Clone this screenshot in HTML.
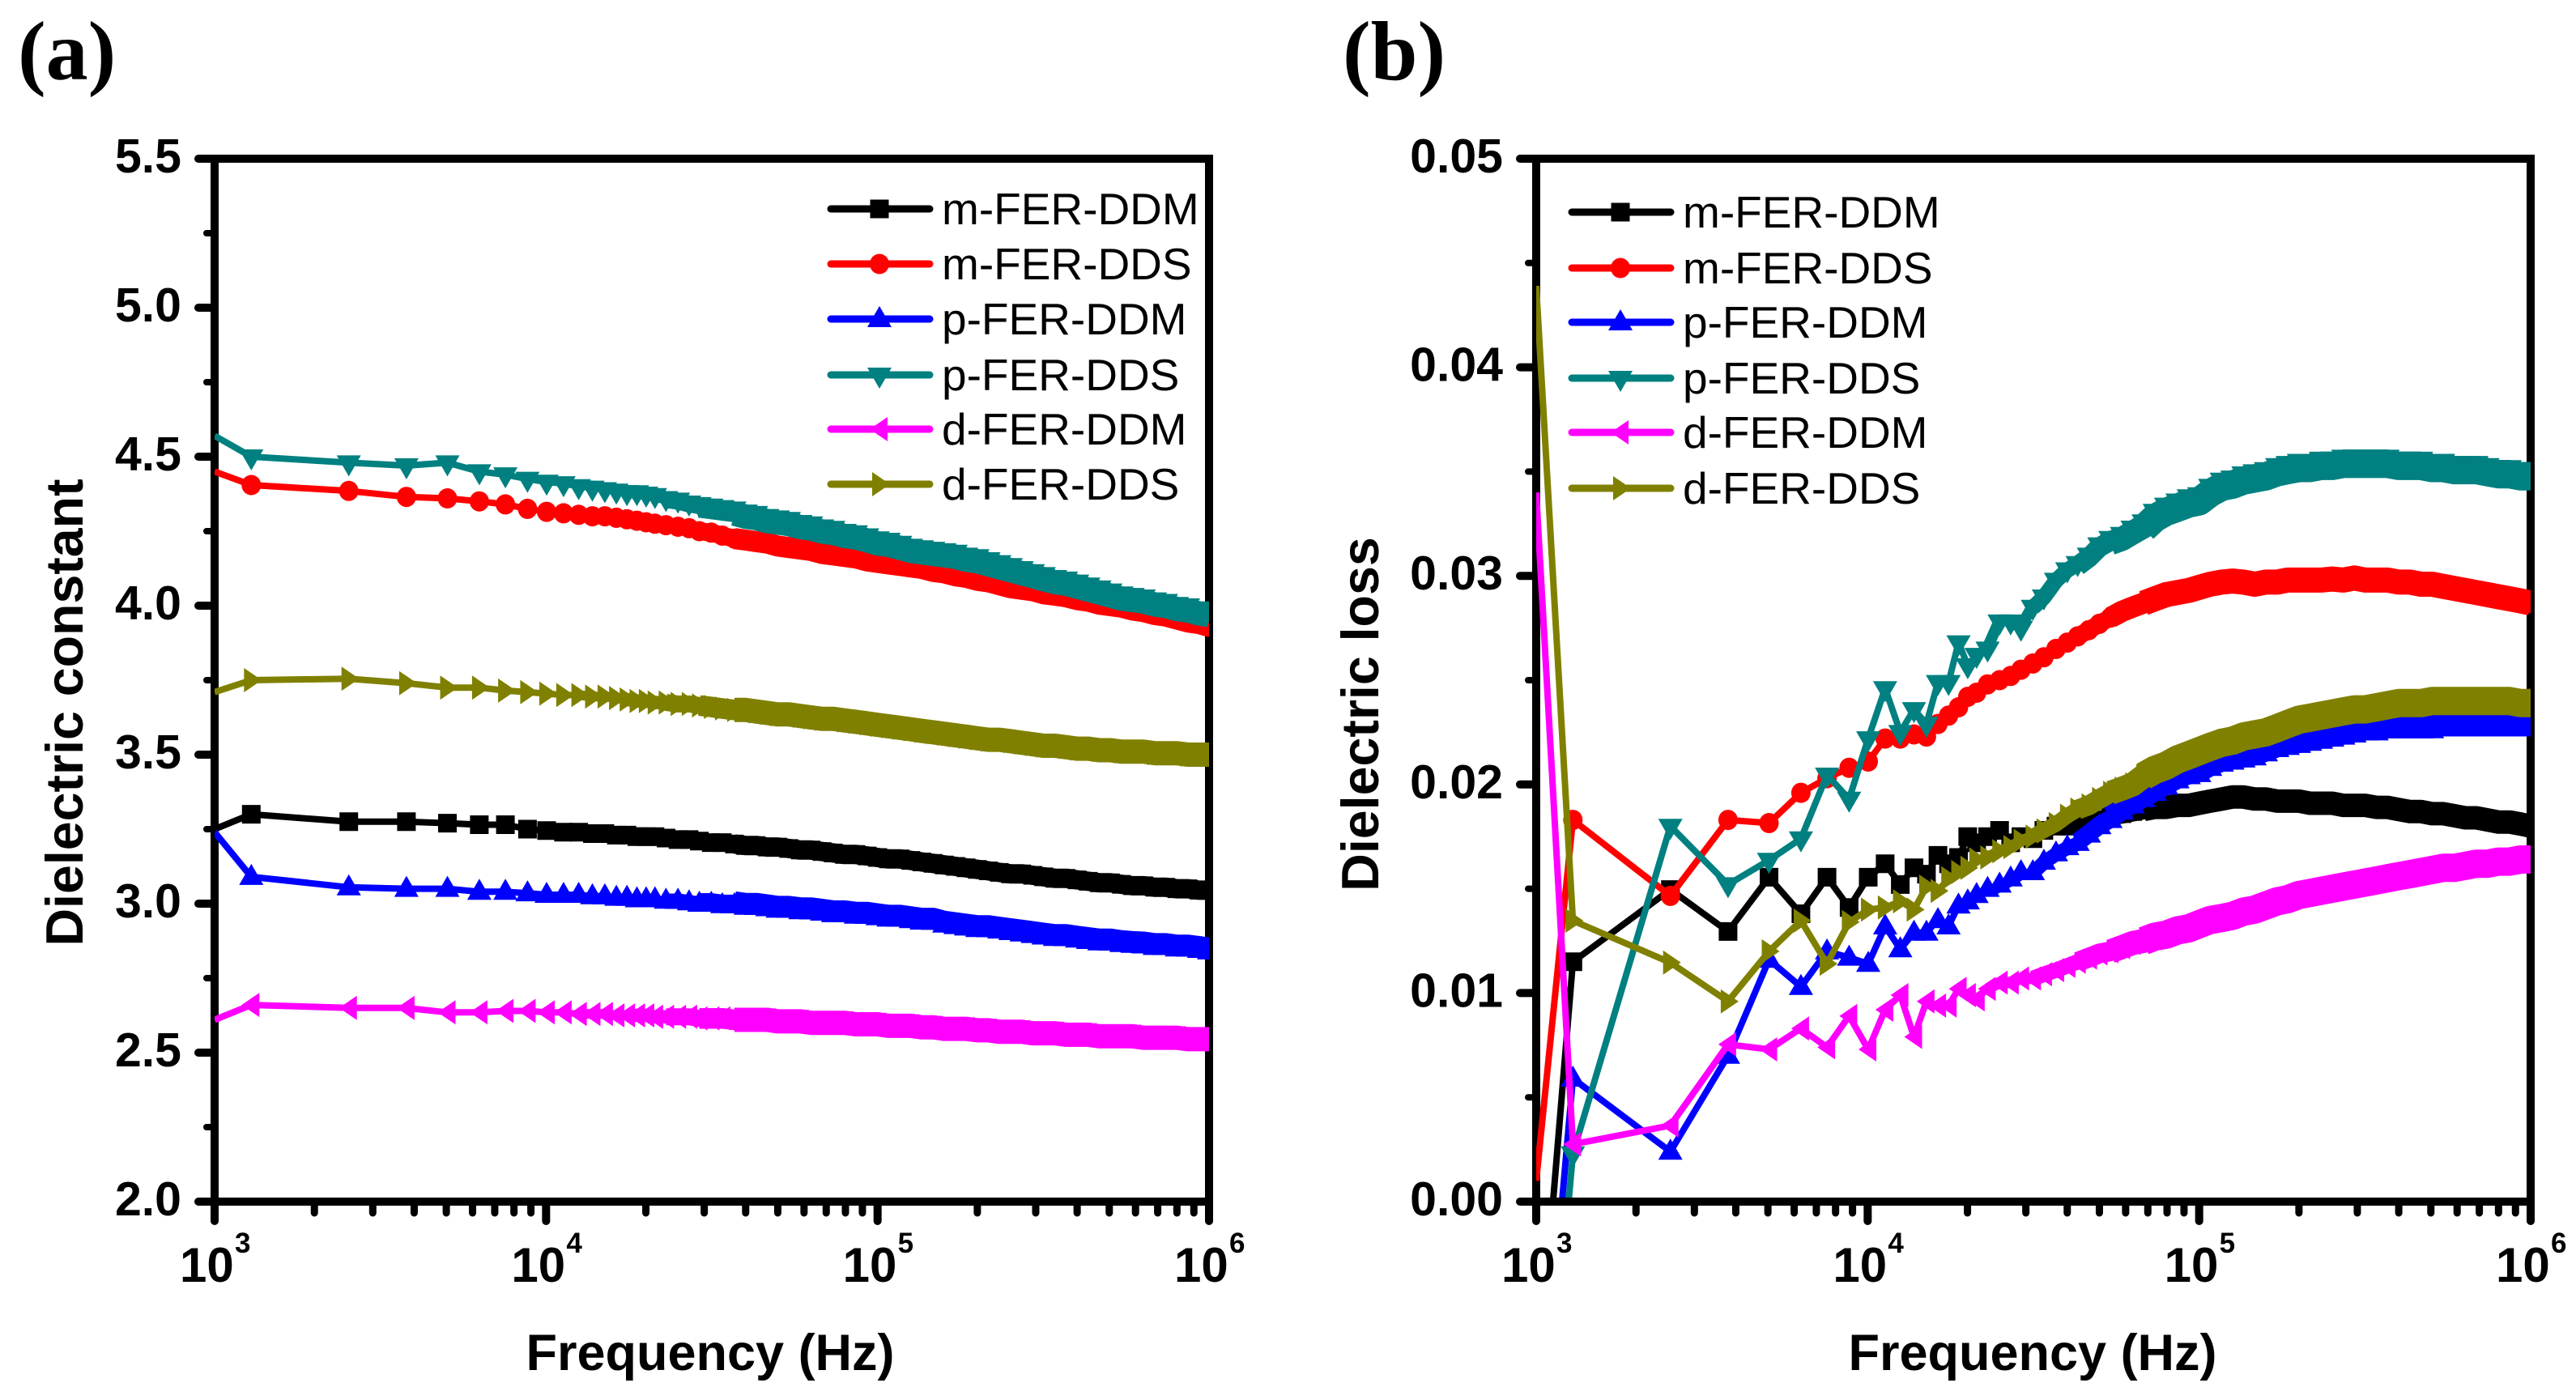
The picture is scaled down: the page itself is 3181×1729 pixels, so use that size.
<!DOCTYPE html>
<html lang="en">
<head>
<meta charset="utf-8">
<title>Dielectric constant and dielectric loss versus frequency</title>
<style>
html,body{margin:0;padding:0;background:#fff;width:3181px;height:1729px;overflow:hidden;}
svg{display:block;font-family:"Liberation Sans",Arial,sans-serif;}
</style>
</head>
<body>
<svg id="figure" xmlns="http://www.w3.org/2000/svg" width="3181" height="1729" viewBox="0 0 3181 1729">
<rect x="0" y="0" width="3181" height="1729" fill="#ffffff"/>
<defs>
<clipPath id="clip-a"><rect x="265" y="196" width="1228" height="1283"/></clipPath>
<clipPath id="clip-b"><rect x="1897" y="196" width="1228" height="1283"/></clipPath>
</defs>
<text x="22" y="98" font-family="Liberation Serif, serif" font-size="104" font-weight="700" fill="#000">(a)</text>
<text x="1658" y="98" font-family="Liberation Serif, serif" font-size="104" font-weight="700" fill="#000">(b)</text>
<text x="877" y="1692" text-anchor="middle" font-size="63" font-weight="700" fill="#000">Frequency (Hz)</text>
<text x="2510" y="1692" text-anchor="middle" font-size="63" font-weight="700" fill="#000">Frequency (Hz)</text>
<text transform="translate(102 880) rotate(-90)" text-anchor="middle" font-size="64.5" font-weight="700" fill="#000">Dielectric constant</text>
<text transform="translate(1702 882) rotate(-90)" text-anchor="middle" font-size="64.5" font-weight="700" fill="#000">Dielectric loss</text>
<g id="layer-a"></g>
<g id="layer-b"></g>
</svg>
<script>
const frequencies = [
1000,1290,2540,3790,5040,6290,7540,8790,10040,11290,
12540,13790,15040,16290,17540,18790,20040,21300,23000,25000,
27000,29000,31500,34000,37000,40000,43000,46500,50000,54000,
58500,63000,68000,73500,79500,86000,93000,100000,108000,117000,
126000,136000,147000,159000,172000,185000,200000,216000,233000,252000,
272000,294000,317000,343000,370000,400000,432000,467000,504000,544000,
588000,635000,686000,741000,800000,864000,933000,1000000];

const seriesNames = ["m-FER-DDM","m-FER-DDS","p-FER-DDM","p-FER-DDS","d-FER-DDM","d-FER-DDS"];
const seriesColors = ["#000000","#ff0000","#0000ff","#008080","#ff00ff","#808000"];
const seriesShapes = ["square","circle","up","down","left","right"];

const constantMDDM = [
3.25,3.30,3.275,3.275,3.27,3.265,3.265,3.25,3.245,3.24,
3.24,3.235,3.235,3.23,3.23,3.225,3.225,3.225,3.22,3.215,
3.215,3.21,3.205,3.205,3.20,3.195,3.195,3.19,3.19,3.185,
3.18,3.18,3.175,3.17,3.165,3.165,3.16,3.155,3.15,3.15,
3.145,3.14,3.135,3.13,3.125,3.12,3.115,3.11,3.105,3.10,
3.10,3.095,3.09,3.085,3.085,3.08,3.075,3.07,3.07,3.065,
3.06,3.06,3.055,3.055,3.05,3.05,3.045,3.045];
const constantMDDS = [
4.45,4.405,4.385,4.365,4.36,4.35,4.34,4.325,4.315,4.31,
4.305,4.30,4.30,4.295,4.29,4.285,4.28,4.275,4.27,4.265,
4.26,4.25,4.245,4.235,4.225,4.22,4.215,4.21,4.20,4.195,
4.19,4.185,4.175,4.17,4.165,4.16,4.15,4.145,4.14,4.135,
4.13,4.125,4.115,4.11,4.10,4.095,4.085,4.08,4.07,4.06,
4.055,4.05,4.04,4.035,4.03,4.02,4.015,4.005,4.0,3.995,
3.985,3.98,3.97,3.965,3.955,3.945,3.94,3.93];
const constantPDDM = [
3.24,3.09,3.055,3.05,3.05,3.04,3.04,3.035,3.03,3.03,
3.03,3.025,3.025,3.02,3.02,3.015,3.015,3.015,3.01,3.01,
3.005,3.0,3.0,2.995,2.995,2.99,2.99,2.985,2.98,2.98,
2.975,2.975,2.97,2.965,2.965,2.96,2.96,2.955,2.95,2.95,
2.945,2.94,2.94,2.93,2.925,2.92,2.915,2.915,2.91,2.905,
2.90,2.895,2.89,2.885,2.885,2.88,2.875,2.87,2.87,2.865,
2.862,2.86,2.855,2.855,2.85,2.85,2.845,2.84];
const constantPDDS = [
4.57,4.50,4.48,4.47,4.48,4.45,4.44,4.425,4.415,4.41,
4.40,4.395,4.39,4.385,4.38,4.38,4.375,4.37,4.36,4.355,
4.345,4.34,4.335,4.33,4.325,4.315,4.31,4.30,4.295,4.29,
4.28,4.275,4.265,4.26,4.25,4.245,4.235,4.225,4.22,4.21,
4.20,4.195,4.19,4.185,4.18,4.17,4.165,4.155,4.145,4.135,
4.125,4.115,4.105,4.095,4.09,4.08,4.07,4.06,4.05,4.04,
4.035,4.03,4.02,4.015,4.005,4.0,3.99,3.985];
const constantDDDM = [
2.61,2.66,2.65,2.65,2.635,2.635,2.64,2.64,2.635,2.635,
2.63,2.63,2.63,2.625,2.625,2.625,2.625,2.62,2.62,2.62,
2.62,2.615,2.615,2.615,2.61,2.61,2.61,2.61,2.605,2.605,
2.605,2.60,2.60,2.60,2.60,2.595,2.595,2.595,2.59,2.59,
2.59,2.585,2.585,2.58,2.58,2.58,2.575,2.575,2.57,2.57,
2.57,2.565,2.565,2.565,2.56,2.56,2.56,2.555,2.555,2.555,
2.555,2.55,2.55,2.55,2.55,2.545,2.545,2.545];
const constantDDDS = [
3.71,3.75,3.755,3.74,3.725,3.725,3.715,3.71,3.705,3.70,
3.70,3.695,3.695,3.69,3.685,3.68,3.68,3.675,3.675,3.67,
3.67,3.665,3.66,3.655,3.65,3.65,3.645,3.64,3.635,3.635,
3.63,3.625,3.62,3.62,3.615,3.61,3.605,3.60,3.595,3.59,
3.585,3.58,3.575,3.57,3.565,3.56,3.555,3.55,3.55,3.545,
3.54,3.535,3.53,3.53,3.525,3.52,3.52,3.515,3.515,3.51,
3.51,3.51,3.505,3.505,3.505,3.50,3.50,3.50];

const lossMDDM = [
-0.0098,0.0115,0.01496,0.01295,0.01555,0.0138,0.01555,0.0141,0.01555,0.0162,
0.0152,0.016,0.0157,0.0166,0.0162,0.0165,0.0175,0.0172,0.0175,0.0178,
0.0172,0.0175,0.0174,0.0178,0.018,0.018,0.0181,0.0182,0.0183,0.0185,
0.0186,0.0187,0.0188,0.0189,0.0189,0.019,0.019,0.0191,0.0192,0.0193,
0.0194,0.0194,0.0193,0.0193,0.0192,0.0192,0.0192,0.0191,0.0191,0.0191,
0.019,0.019,0.019,0.0189,0.0189,0.0188,0.0187,0.0187,0.0186,0.0186,
0.0185,0.0184,0.0184,0.0183,0.0182,0.0182,0.0181,0.018];
const lossMDDS = [
0.001,0.0183,0.01466,0.0183,0.01815,0.0196,0.0203,0.0208,0.0211,0.0222,
0.0222,0.0224,0.0223,0.0229,0.0233,0.0237,0.0242,0.0244,0.0248,0.025,
0.0252,0.0255,0.0258,0.0261,0.0265,0.0268,0.0271,0.0274,0.0277,0.028,
0.0283,0.0285,0.0287,0.0289,0.0291,0.0292,0.0293,0.02945,0.0296,0.0297,
0.02975,0.0297,0.0296,0.0297,0.0297,0.0298,0.0298,0.0298,0.0298,0.02985,
0.0298,0.0299,0.0298,0.0298,0.0298,0.0297,0.0297,0.0296,0.0296,0.0295,
0.0294,0.0293,0.0292,0.0291,0.029,0.0289,0.0288,0.0287];
const lossPDDM = [
-0.0141,0.0059,0.0024,0.007,0.0116,0.0103,0.012,0.0117,0.0114,0.0132,
0.0121,0.0129,0.0129,0.0135,0.0132,0.0142,0.0144,0.0147,0.015,0.0152,
0.0155,0.0158,0.0158,0.0163,0.0167,0.017,0.0172,0.0176,0.018,0.0183,
0.0187,0.019,0.0193,0.0196,0.0199,0.0202,0.0204,0.0205,0.0208,0.021,
0.0211,0.0212,0.0213,0.0215,0.0217,0.0218,0.0219,0.022,0.0221,0.0222,
0.0223,0.0224,0.0225,0.0225,0.0226,0.0226,0.0226,0.0226,0.0226,0.0227,
0.0227,0.0227,0.0227,0.0227,0.0227,0.0227,0.0227,0.0227];
const lossPDDS = [
-0.0173,0.0023,0.018,0.0152,0.01637,0.0174,0.02046,0.0193,0.0222,0.0246,
0.0225,0.0236,0.0229,0.0249,0.0249,0.0268,0.0257,0.0262,0.0265,0.0278,
0.0278,0.0275,0.0285,0.029,0.0298,0.0303,0.0306,0.031,0.0315,0.0318,
0.032,0.0323,0.0326,0.0331,0.0334,0.0336,0.0338,0.0339,0.0343,0.0346,
0.0347,0.0349,0.035,0.0351,0.0353,0.0354,0.0355,0.0355,0.0356,0.0356,
0.0357,0.0357,0.0357,0.0357,0.0357,0.0356,0.0356,0.0356,0.0355,0.0355,
0.0354,0.0354,0.0354,0.0353,0.0352,0.0352,0.0351,0.0351];
const lossDDDM = [
0.034,0.00275,0.00365,0.00754,0.0073,0.0083,0.0074,0.0089,0.0073,0.0092,
0.0099,0.0079,0.0096,0.0094,0.0094,0.0102,0.0099,0.0097,0.0102,0.0105,
0.0105,0.0107,0.0107,0.0109,0.0111,0.0113,0.0115,0.0117,0.0119,0.012,
0.0122,0.0124,0.0125,0.0127,0.0128,0.013,0.0131,0.0133,0.0135,0.0136,
0.0137,0.0139,0.014,0.0142,0.0144,0.0145,0.0147,0.0148,0.0149,0.015,
0.0151,0.0152,0.0153,0.0154,0.0155,0.0156,0.0157,0.0158,0.0159,0.016,
0.016,0.0161,0.0162,0.0162,0.0163,0.0163,0.0164,0.0164];
const lossDDDS = [
0.0439,0.01347,0.01146,0.0096,0.012,0.01347,0.0114,0.0134,0.014,0.0141,
0.0144,0.014,0.0151,0.0149,0.0155,0.0158,0.016,0.0164,0.0165,0.0168,
0.017,0.0173,0.0175,0.0178,0.0181,0.0185,0.0188,0.019,0.0193,0.0196,
0.0198,0.02,0.0204,0.0207,0.0209,0.0212,0.0214,0.0216,0.0218,0.022,
0.0221,0.0223,0.0224,0.0225,0.0227,0.0229,0.0231,0.0232,0.0233,0.0234,
0.0235,0.0236,0.0236,0.0237,0.0238,0.0239,0.0239,0.0239,0.024,0.024,
0.024,0.024,0.024,0.024,0.024,0.024,0.0239,0.0239];

const constantTicks = ["2.0","2.5","3.0","3.5","4.0","4.5","5.0","5.5"];
const lossTicks = ["0.00","0.01","0.02","0.03","0.04","0.05"];
const xTickExponents = [3,4,5,6];

const SVG_NS = "http://www.w3.org/2000/svg";
const BAND_TIERS = [[10, 0.4], [14, 0.55], [18, 0.7], [21, 0.85], [24, 1]];
const BAND_HEIGHT = { square: 24, circle: 26, up: 27, down: 30, left: 30, right: 30 };

function make(tag, parent, attrs, text) {
  const node = document.createElementNS(SVG_NS, tag);
  for (const key in attrs) node.setAttribute(key, attrs[key]);
  if (text !== undefined) node.textContent = text;
  parent.appendChild(node);
  return node;
}

function bandOffset(shape, width) {
  if (shape === "up") return 10 - width / 2;
  if (shape === "down") return -9 + width / 2;
  return 0;
}

function shapePoints(shape, cx, cy) {
  let pts;
  if (shape === "square") pts = [[-11.5,-11.5],[11.5,-11.5],[11.5,11.5],[-11.5,11.5]];
  if (shape === "up") pts = [[0,-16],[15,10],[-15,10]];
  if (shape === "down") pts = [[-15,-9],[15,-9],[0,17]];
  if (shape === "left") pts = [[-12,0],[10,-15],[10,15]];
  if (shape === "right") pts = [[-9,-15],[13,0],[-9,15]];
  return pts.map(p => (cx + p[0]).toFixed(1) + "," + (cy + p[1]).toFixed(1)).join(" ");
}

function drawMarker(parent, shape, cx, cy, color) {
  if (shape === "circle") {
    return make("ellipse", parent, { cx: cx.toFixed(1), cy: cy.toFixed(1), rx: 12, ry: 12.5, fill: color });
  }
  return make("polygon", parent, { points: shapePoints(shape, cx, cy), fill: color });
}

function linePoints(values, xA, yA, yMin) {
  const pts = [];
  values.forEach((v, i) => {
    if (v >= yMin) {
      pts.push([xA(frequencies[i]), yA(v)]);
    } else if (i + 1 < values.length && values[i + 1] >= yMin) {
      const t = (yMin - v) / (values[i + 1] - v);
      const x = xA(frequencies[i]) + t * (xA(frequencies[i + 1]) - xA(frequencies[i]));
      pts.push([x, yA(yMin)]);
    }
  });
  return pts.map(p => p[0].toFixed(1) + "," + p[1].toFixed(1)).join(" ");
}

function drawPanel(cfg) {
  const layer = document.getElementById(cfg.layerId);
  const left = cfg.left, right = cfg.left + 1228, top = 196, bottom = 1484;
  const xA = f => left + (Math.log10(f) - 3) / 3 * (right - left);
  const yA = v => bottom - (v - cfg.yMin) / (cfg.yMax - cfg.yMin) * (bottom - top);

  const axes = make("g", layer, { stroke: "#000", fill: "none", "stroke-linecap": "butt" });
  
  

  const frame = make("rect", axes, { x: left, y: top, width: right - left, height: bottom - top, "stroke-width": 10 });
  
  

  cfg.ticks.forEach((label, i) => {
    const v = parseFloat(label);
    const y = yA(v);
    const tick = make("line", axes, { x1: left, x2: left - 20, y1: y, y2: y, "stroke-width": 10, "stroke-linecap": "round" });
    
    
    const text = make("text", layer, { x: left - 41, y: y + 17, "text-anchor": "end", "font-size": 59, "font-weight": 700, fill: "#000" }, label);
    
    
    if (i < cfg.ticks.length - 1) {
      const yMid = yA((v + parseFloat(cfg.ticks[i + 1])) / 2);
      const minor = make("line", axes, { x1: left, x2: left - 10, y1: yMid, y2: yMid, "stroke-width": 8, "stroke-linecap": "round" });
      
      
    }
  });

  xTickExponents.forEach(exp => {
    const decade = Math.pow(10, exp);
    const x = xA(decade);
    const tick = make("line", axes, { x1: x, x2: x, y1: bottom, y2: bottom + 24, "stroke-width": 10, "stroke-linecap": "round" });
    
    
    const base = make("text", layer, { x: x - 43, y: 1583, "font-size": 60, "font-weight": 700, fill: "#000" }, "10");
    
    
    const power = make("text", layer, { x: x + 25, y: 1547, "font-size": 35, "font-weight": 700, fill: "#000" }, String(exp));
    
    
    if (exp < 6) {
      for (let m = 2; m <= 9; m++) {
        const xm = xA(m * decade);
        const minor = make("line", axes, { x1: xm, x2: xm, y1: bottom, y2: bottom + 14, "stroke-width": 9, "stroke-linecap": "round" });
        
        
      }
    }
  });

  const plot = make("g", layer, { "clip-path": "url(#" + cfg.clipId + ")" });
  
  

  cfg.series.forEach((values, s) => {
    const color = seriesColors[s];
    const shape = seriesShapes[s];
    const group = make("g", plot, {});
    
    

    const line = make("polyline", group, { points: linePoints(values, xA, yA, cfg.yMin), fill: "none", stroke: color, "stroke-width": 8, "stroke-linejoin": "round" });
    
    

    BAND_TIERS.forEach(tier => {
      const start = tier[0] + cfg.bandDelay;
      const width = (BAND_HEIGHT[shape] + cfg.bandExtra) * tier[1];
      const dy = bandOffset(shape, width);
      const bandPts = values.slice(start).map((v, i) =>
        xA(frequencies[i + start]).toFixed(1) + "," + (yA(v) + dy).toFixed(1)).join(" ");
      const band = make("polyline", group, { points: bandPts, fill: "none", stroke: color, "stroke-width": width, "stroke-linejoin": "round" });
      
      
    });

    values.forEach((v, i) => {
      if (i === 0) return;
      const mark = drawMarker(group, shape, xA(frequencies[i]), yA(v), color);
      
      
    });
  });

  const legend = make("g", layer, {});
  
  
  seriesNames.forEach((name, s) => {
    const y = cfg.legendRows[s];
    const x0 = cfg.legendX;
    const entry = make("g", legend, {});
    
    
    const sample = make("line", entry, { x1: x0 + 4, x2: x0 + 126, y1: y, y2: y, stroke: seriesColors[s], "stroke-width": 9, "stroke-linecap": "round" });
    
    
    const mark = drawMarker(entry, seriesShapes[s], x0 + 64, y, seriesColors[s]);
    
    
    const label = make("text", entry, { x: x0 + 141, y: y + 19, "font-size": 55, fill: "#000" }, name);
    
    
  });
}

drawPanel({
  layerId: "layer-a", clipId: "clip-a", left: 265, yMin: 2.0, yMax: 5.5, bandExtra: 0, bandDelay: 0,
  ticks: constantTicks,
  series: [constantMDDM, constantMDDS, constantPDDM, constantPDDS, constantDDDM, constantDDDS],
  legendX: 1022, legendRows: [258, 326, 394, 463, 530, 598]
});
drawPanel({
  layerId: "layer-b", clipId: "clip-b", left: 1897, yMin: 0, yMax: 0.05, bandExtra: 5, bandDelay: 8,
  ticks: lossTicks,
  series: [lossMDDM, lossMDDS, lossPDDM, lossPDDS, lossDDDM, lossDDDS],
  legendX: 1937, legendRows: [262, 331, 398, 467, 534, 603]
});
</script>
</body>
</html>
